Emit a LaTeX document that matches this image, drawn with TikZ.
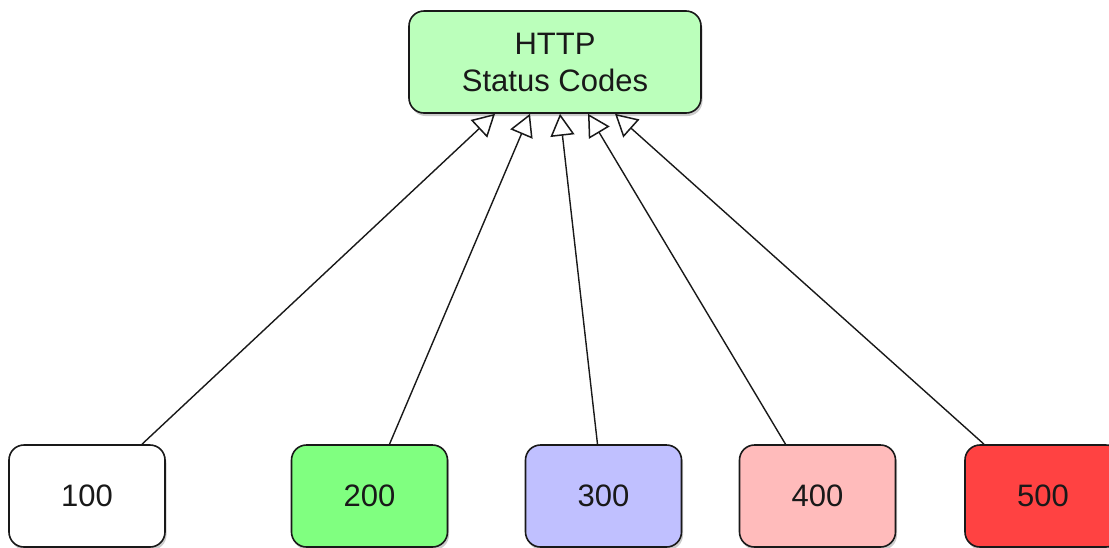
\documentclass[tikz,border=0pt]{standalone}
\usepackage{fontspec}
\setmainfont{Liberation Sans}
\usetikzlibrary{arrows.meta, shadows}

\definecolor{topgreen}{RGB}{187,255,187}
\definecolor{okgreen}{RGB}{128,255,128}
\definecolor{redirblue}{RGB}{192,192,255}
\definecolor{clientpink}{RGB}{255,187,187}
\definecolor{serverred}{RGB}{255,66,66}

\begin{document}
\begin{tikzpicture}[x=1pt, y=-1pt,
    codebox/.style={draw=black!90, line width=1.6pt, rounded corners=15pt,
        minimum width=156pt, minimum height=102pt, inner sep=0pt,
        text=black!90, font=\fontsize{31}{37}\selectfont, align=center,
        drop shadow={shadow xshift=1.5pt, shadow yshift=-3pt, opacity=0.4}},
    isa/.style={line width=1.4pt, draw=black!90,
        -{Triangle[open, length=22pt, width=24pt, line width=1.5pt]}}]
    \useasboundingbox (0,0) rectangle (1109,547);

    % parent
    \node [codebox, fill=topgreen, minimum width=292pt] (codes) at (555,62) {HTTP\\Status Codes};

    % status classes
    \node [codebox, fill=white]      (c100) at (87,496)    {100};
    \node [codebox, fill=okgreen]    (c200) at (369.5,496) {200};
    \node [codebox, fill=redirblue]  (c300) at (603.5,496) {300};
    \node [codebox, fill=clientpink] (c400) at (817.5,496) {400};
    \node [codebox, fill=serverred]  (c500) at (1043,496)  {500};

    % generalisation arrows
    \draw [isa] ([xshift=55pt]c100.north)  -- ([xshift=-60pt]codes.south);
    \draw [isa] ([xshift=20pt]c200.north)  -- ([xshift=-25pt]codes.south);
    \draw [isa] ([xshift=-6pt]c300.north)  -- ([xshift=5pt]codes.south);
    \draw [isa] ([xshift=-32pt]c400.north) -- ([xshift=33pt]codes.south);
    \draw [isa] ([xshift=-59pt]c500.north) -- ([xshift=60pt]codes.south);
\end{tikzpicture}
\end{document}
